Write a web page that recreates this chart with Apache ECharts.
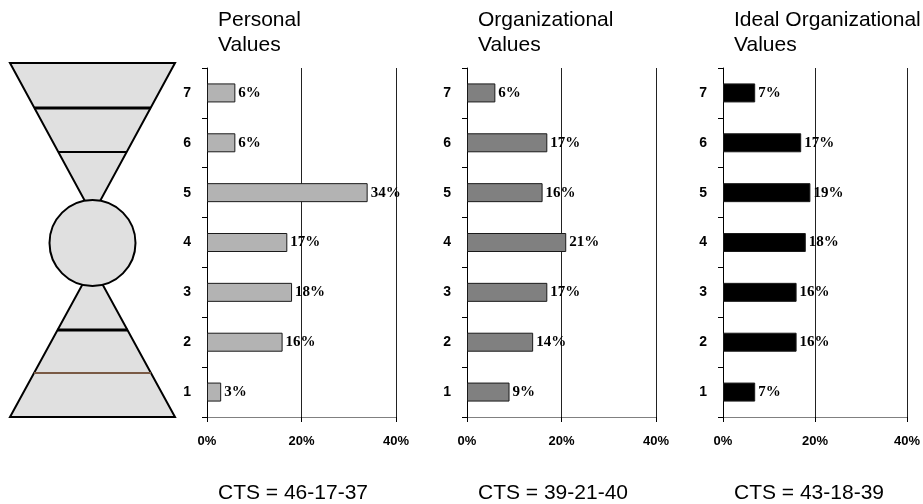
<!DOCTYPE html>
<html>
<head>
<meta charset="utf-8">
<script src="https://cdn.jsdelivr.net/npm/echarts@6/dist/echarts.min.js"></script>
<style>
html, body { margin: 0; padding: 0; background: #fff; }
#main { width: 923px; height: 504px; }
</style>
</head>
<body>
<div id="main"></div>
<script>
const categories = ['1', '2', '3', '4', '5', '6', '7']
const personal = [3, 16, 18, 17, 34, 6, 6]
const organizational = [9, 14, 17, 21, 16, 17, 6]
const ideal = [7, 16, 16, 18, 19, 17, 7]
const titles = ['Personal\nValues', 'Organizational\nValues', 'Ideal Organizational\nValues']
const ctsLabels = ['CTS = 46-17-37', 'CTS = 39-21-40', 'CTS = 43-18-39']
const xTicks = [0, 20, 40]

const chart = echarts.init(document.getElementById('main'), null, { renderer: 'canvas' })

const panels = [
    { left: 207, data: personal, color: '#b3b3b3' },
    { left: 467, data: organizational, color: '#808080' },
    { left: 723, data: ideal, color: '#000000' }
]
const gridTop = 68
const gridH = 349
const gridW = 189

// hourglass on the left (decoration only)
const cx = 92.5
const topY = 63, topApex = 215
const botY = 417, botApex = 266
const halfW = 82.5
const topHalf = y => halfW * (topApex - y) / (topApex - topY)
const botHalf = y => halfW * (y - botApex) / (botY - botApex)
const hLine = (y, half, color, w) => ({
    type: 'line',
    shape: { x1: cx - half, y1: y, x2: cx + half, y2: y },
    style: { stroke: color, lineWidth: w }
})

const graphic = [
    {
        type: 'polygon',
        shape: { points: [[cx - halfW, topY], [cx + halfW, topY], [cx, topApex]] },
        style: { fill: '#e0e0e0', stroke: '#000', lineWidth: 2 }
    },
    {
        type: 'polygon',
        shape: { points: [[cx - halfW, botY], [cx + halfW, botY], [cx, botApex]] },
        style: { fill: '#e0e0e0', stroke: '#000', lineWidth: 2 }
    },
    hLine(108, topHalf(108), '#000', 3),
    hLine(152, topHalf(152), '#000', 2),
    hLine(330, botHalf(330), '#000', 3),
    hLine(373, botHalf(373), '#7a5a45', 2),
    {
        type: 'circle',
        shape: { cx: cx, cy: 243, r: 43 },
        style: { fill: '#e0e0e0', stroke: '#000', lineWidth: 2 }
    }
]

const option = {
    backgroundColor: '#fff',
    animation: false,
    title: panels.map((p, i) => ({
        text: titles[i],
        left: p.left + 6,
        top: 3,
        textStyle: {
            fontFamily: 'Liberation Sans, Arial',
            fontSize: 21,
            fontWeight: 'normal',
            lineHeight: 25,
            color: '#000'
        }
    })).concat(panels.map((p, i) => ({
        text: ctsLabels[i],
        left: p.left + 6,
        top: 478,
        textStyle: {
            fontFamily: 'Liberation Sans, Arial',
            fontSize: 21,
            fontWeight: 'normal',
            color: '#000'
        }
    }))),
    grid: panels.map(p => ({
        left: p.left, top: gridTop, width: gridW, height: gridH
    })),
    xAxis: panels.map((p, i) => ({
        type: 'value',
        gridIndex: i,
        min: xTicks[0],
        max: xTicks[xTicks.length - 1],
        interval: xTicks[1] - xTicks[0],
        axisLine: { show: true, lineStyle: { color: '#808080', width: 1 } },
        axisTick: { show: true, length: 5, lineStyle: { color: '#000' } },
        splitLine: { show: true, lineStyle: { color: '#222', width: 1 } },
        axisLabel: {
            formatter: '{value}%',
            margin: 18,
            color: '#000',
            fontFamily: 'Liberation Sans, Arial',
            fontWeight: 'bold',
            fontSize: 13
        }
    })),
    yAxis: panels.map((p, i) => ({
        type: 'category',
        gridIndex: i,
        data: categories,
        axisLine: { show: true, lineStyle: { color: '#000', width: 1 } },
        axisTick: { show: true, length: 5, lineStyle: { color: '#000' } },
        axisLabel: {
            margin: 16,
            color: '#000',
            fontFamily: 'Liberation Sans, Arial',
            fontWeight: 'bold',
            fontSize: 14
        }
    })),
    series: panels.map((p, i) => ({
        type: 'bar',
        xAxisIndex: i,
        yAxisIndex: i,
        data: p.data,
        barWidth: 19,
        itemStyle: { color: p.color, borderColor: '#1a1a1a', borderWidth: 1 },
        label: {
            show: true,
            position: 'right',
            distance: 3,
            formatter: '{c}%',
            color: '#000',
            fontFamily: 'Liberation Serif, Times New Roman',
            fontWeight: 'bold',
            fontSize: 15
        }
    })),
    graphic: graphic
}

chart.setOption(option)
</script>
</body>
</html>
